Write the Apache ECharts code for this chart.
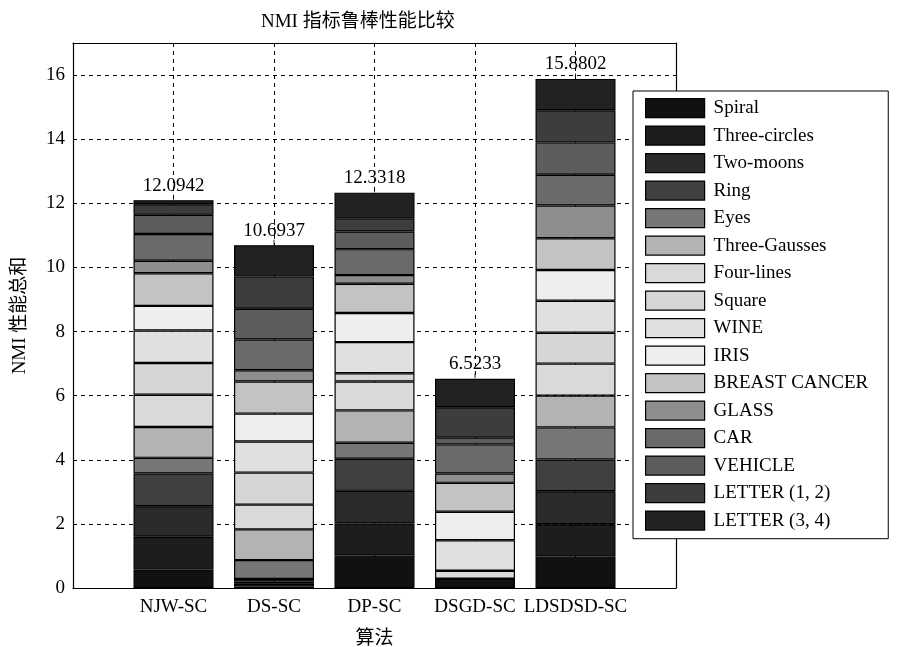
<!DOCTYPE html>
<html>
<head>
<meta charset="utf-8">
<script src="https://cdn.jsdelivr.net/npm/echarts@6/dist/echarts.min.js"></script>
<style>
html,body{margin:0;padding:0;background:#fff;}
#chart{width:902px;height:647px;}
</style>
</head>
<body>
<div id="chart"></div>
<script>
const categories = ['NJW-SC', 'DS-SC', 'DP-SC', 'DSGD-SC', 'LDSDSD-SC'];
const seriesNames = ['Spiral', 'Three-circles', 'Two-moons', 'Ring', 'Eyes', 'Three-Gausses', 'Four-lines', 'Square', 'WINE', 'IRIS', 'BREAST CANCER', 'GLASS', 'CAR', 'VEHICLE', 'LETTER (1, 2)', 'LETTER (3, 4)'];
const seriesColors = ['#111111', '#1d1d1d', '#2b2b2b', '#404040', '#777777', '#b3b3b3', '#d9d9d9', '#d6d6d6', '#e0e0e0', '#eeeeee', '#c3c3c3', '#8e8e8e', '#6a6a6a', '#5d5d5d', '#3d3d3d', '#222222'];

const spiral        = [0.58, 0.05, 1.01, 0.29, 0.98];
const threeCircles  = [1.02, 0.08, 1.00, 0,    1.01];
const twoMoons      = [0.95, 0.07, 1.02, 0,    1.03];
const ring          = [1.02, 0.08, 1.00, 0,    0.99];
const eyes          = [0.49, 0.59, 0.50, 0,    1.00];
const threeGausses  = [0.96, 0.96, 1.01, 0,    0.99];
const fourLines     = [1.01, 0.77, 0.90, 0.25, 1.00];
const square        = [0.99, 1.00, 0.26, 0,    0.96];
const wine          = [1.01, 0.97, 0.97, 0.95, 1.00];
const iris          = [0.77, 0.87, 0.91, 0.89, 0.96];
const breastCancer  = [1.02, 1.00, 0.91, 0.90, 0.99];
const glass         = [0.39, 0.35, 0.27, 0.29, 1.02];
const car           = [0.83, 0.96, 0.81, 0.91, 0.96];
const vehicle       = [0.60, 0.96, 0.55, 0.21, 1.01];
const letter12      = [0.33, 1.01, 0.41, 0.95, 1.00];
const letter34      = [0.1242, 0.9737, 0.8018, 0.8833, 0.9802];

const yTicks = [0, 2, 4, 6, 8, 10, 12, 14, 16];

const allValues = [spiral, threeCircles, twoMoons, ring, eyes, threeGausses, fourLines, square, wine, iris, breastCancer, glass, car, vehicle, letter12, letter34];

const FONT = '"Liberation Serif", "Times New Roman", "Noto Sans CJK SC", serif';
const FS = 19;
const xCats = [''].concat(categories).concat(['']);
const pad = arr => ['-'].concat(arr).concat(['-']);
const totals = categories.map((c, i) => allValues.reduce((s, a) => s + a[i], 0));

const series = allValues.map((arr, k) => {
  const s = {
    name: seriesNames[k],
    type: 'bar',
    stack: 'total',
    barWidth: 80,
    data: pad(arr),
    itemStyle: { color: seriesColors[k], borderColor: '#000', borderWidth: 1.2 },
    emphasis: { disabled: true },
    animation: false
  };
  if (k === allValues.length - 1) {
    s.label = {
      show: true,
      position: 'top',
      distance: 5,
      color: '#000',
      fontFamily: FONT,
      fontSize: FS,
      formatter: p => totals[p.dataIndex - 1].toFixed(4)
    };
  }
  return s;
});

series.push({
  name: 'tick',
  type: 'scatter',
  data: pad(totals),
  symbol: 'rect',
  symbolSize: [1, 5],
  symbolOffset: [0, -3],
  itemStyle: { color: '#000' },
  silent: true,
  animation: false,
  z: 5
});

const chart = echarts.init(document.getElementById('chart'), null, { renderer: 'canvas' });
chart.setOption({
  backgroundColor: '#fff',
  animation: false,
  title: {
    text: 'NMI 指标鲁棒性能比较',
    left: 256,
    top: 8,
    textStyle: { fontFamily: FONT, fontSize: 19, fontWeight: 'normal', color: '#000' }
  },
  grid: {
    left: 73, right: 226, top: 43, bottom: 59,
    show: false,
    containLabel: false,
    outerBoundsMode: 'none'
  },
  legend: {
    data: seriesNames,
    orient: 'vertical',
    left: 633,
    top: 91,
    icon: 'rect',
    itemWidth: 59,
    itemHeight: 19,
    itemGap: 7.3,
    padding: [7, 20, 8, 12],
    backgroundColor: '#fff',
    borderColor: '#000',
    borderWidth: 1,
    borderRadius: 0,
    selectedMode: false,
    textStyle: { fontFamily: FONT, fontSize: FS, lineHeight: 19, color: '#000', padding: [0, 0, 0, 4] },
    itemStyle: { borderColor: '#000', borderWidth: 1.2 }
  },
  xAxis: [{
    type: 'category',
    data: xCats,
    boundaryGap: false,
    name: '算法',
    nameLocation: 'middle',
    nameGap: 42,
    nameTextStyle: { fontFamily: FONT, fontSize: FS, color: '#000' },
    axisLine: { show: true, lineStyle: { color: '#000', width: 1.2 } },
    axisTick: { show: false },
    axisLabel: { fontFamily: FONT, fontSize: FS, color: '#000', margin: 10, interval: 0 },
    splitLine: { show: true, lineStyle: { color: '#000', type: [4, 4], width: 1 } }
  }, {
    type: 'category',
    data: xCats,
    boundaryGap: false,
    position: 'top',
    axisLine: { show: true, onZero: false, lineStyle: { color: '#000', width: 1.2 } },
    axisTick: { show: false },
    axisLabel: { show: false },
    splitLine: { show: false }
  }],
  yAxis: [{
    type: 'value',
    min: 0,
    max: 17,
    interval: 2,
    name: 'NMI 性能总和',
    nameLocation: 'middle',
    nameGap: 43,
    nameTextStyle: { fontFamily: FONT, fontSize: FS, color: '#000' },
    axisLine: { show: true, lineStyle: { color: '#000', width: 1.2 } },
    axisTick: { show: false },
    axisLabel: {
      fontFamily: FONT, fontSize: FS, color: '#000', margin: 8,
      showMaxLabel: false,
      formatter: v => (yTicks.indexOf(v) >= 0 ? String(v) : '')
    },
    splitLine: { show: true, lineStyle: { color: '#000', type: [4, 4], width: 1 } }
  }, {
    type: 'value',
    min: 0,
    max: 17,
    interval: 2,
    position: 'right',
    axisLine: { show: true, onZero: false, lineStyle: { color: '#000', width: 1.2 } },
    axisTick: { show: false },
    axisLabel: { show: false },
    splitLine: { show: false }
  }],
  series: series
});
</script>
</body>
</html>
